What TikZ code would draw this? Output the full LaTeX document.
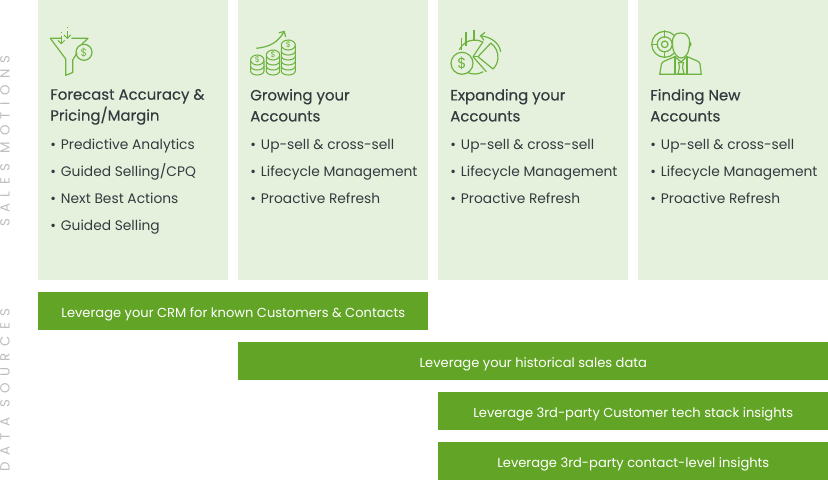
\documentclass[tikz,border=0pt]{standalone}
\usepackage{fontspec}
\setmainfont{Poppins}
\usepackage{xcolor}
\usetikzlibrary{arrows.meta}
\definecolor{cardgreen}{HTML}{E6F1DD}
\definecolor{bargreen}{HTML}{62A526}
\definecolor{icongreen}{HTML}{6DB33F}
\definecolor{inkgray}{HTML}{333B3F}
\definecolor{sidegray}{HTML}{BDBDBD}
\tikzset{
  card/.style={fill=cardgreen, anchor=north west, minimum width=142.5pt, minimum height=210pt, inner sep=0pt},
  bar/.style={fill=bargreen, text=white, anchor=north west, minimum height=28.5pt, inner sep=0pt,
    text height=12pt, text depth=3pt, font=\fontsize{9.8}{12}\selectfont},
  heading/.style={anchor=north west, inner sep=0pt, align=left, text=inkgray,
    execute at begin node=\strut, font=\fontsize{11.2}{15.75}\selectfont\addfontfeature{FakeBold=0.4}},
  item/.style={anchor=base west, inner sep=0pt, text=inkgray, font=\fontsize{10.35}{12}\selectfont},
  sidelabel/.style={rotate=90, text=sidegray, inner sep=0pt,
    font=\fontsize{10}{12}\selectfont\addfontfeature{LetterSpace=48}},
  icon/.style={draw=icongreen, line width=0.9pt, line join=round},
  icontext/.style={text=icongreen, inner sep=0pt, font=\fontsize{8}{8}\selectfont}
}
\begin{document}
\begin{tikzpicture}[x=0.75pt, y=-0.75pt, >=Stealth]
  \useasboundingbox (0,0) rectangle (828,480);

  % Side labels
  \node[sidelabel] (motions) at (5,141) {SALES MOTIONS};
  \node[sidelabel] (sources) at (5,390) {DATA SOURCES};

  % Cards
  \node[card] (card1) at (38,0) {};
  \node[card] (card2) at (238,0) {};
  \node[card] (card3) at (438,0) {};
  \node[card] (card4) at (638,0) {};

  % Headings
  \node[heading] (head1) at (50,88.8) {Forecast Accuracy \&\\Pricing/Margin};
  \node[heading] (head2) at (250,88.8) {Growing your\\Accounts};
  \node[heading] (head3) at (450,88.8) {Expanding your\\Accounts};
  \node[heading] (head4) at (650,88.8) {Finding New\\Accounts};

  % Lists
  \node[item] (item11) at (50,149) {•\hspace{1pt} Predictive Analytics};
  \node[item] (item12) at (50,176) {•\hspace{1pt} Guided Selling/CPQ};
  \node[item] (item13) at (50,203) {•\hspace{1pt} Next Best Actions};
  \node[item] (item14) at (50,230) {•\hspace{1pt} Guided Selling};
  \foreach \cx/\n in {250/2, 450/3, 650/4} {
    \node[item] (item\n1) at (\cx,149) {•\hspace{1pt} Up-sell \& cross-sell};
    \node[item] (item\n2) at (\cx,176) {•\hspace{1pt} Lifecycle Management};
    \node[item] (item\n3) at (\cx,203) {•\hspace{1pt} Proactive Refresh};
  }

  % Data source bars
  \node[bar, minimum width=292.5pt] (crm) at (38,292) {Leverage your CRM for known Customers \& Contacts};
  \node[bar, minimum width=442.5pt] (sales) at (238,342) {Leverage your historical sales data};
  \node[bar, minimum width=292.5pt] (stack) at (438,392) {Leverage 3rd-party Customer tech stack insights};
  \node[bar, minimum width=292.5pt] (contact) at (438,442) {Leverage 3rd-party contact-level insights};

  % Funnel icon
  \draw[icon] (61,38.3) -- (50.3,38.3) -- (65.7,59) -- (65.7,75.3) -- (72.7,72.5) -- (72.7,60) -- (77,53);
  \draw[icon] (71.3,38.3) -- (88,38.3) -- (82,44);
  \draw[icon] (84,52.3) circle (8);
  \node[icontext] (coin1) at (84,52.3) {\$};
  \draw[icon, line width=0.7pt, ->, >={Straight Barb[length=2.5pt,width=5pt]}] (61.3,37) -- (61.3,44.3);
  \draw[icon, line width=0.7pt, ->, >={Straight Barb[length=2.5pt,width=5pt]}] (67.3,31) -- (67.3,39);
  \draw[icon, line width=0.7pt, dotted] (61.3,32) -- (61.3,36);
  \draw[icon, line width=0.7pt, dotted] (67.3,27) -- (67.3,31);

  % Coin stacks icon
  \foreach \sx/\stop/\srx/\sn in {257.3/60/6.7/2, 273/55/6.7/3, 288.3/45/7/5} {
    \foreach \k in {\sn,...,1}
      \draw[icon, line width=0.8pt, fill=cardgreen] ({\sx-\srx},{\stop+1+(\k-1)*5}) -- ({\sx-\srx},{\stop+1+\k*5})
        arc[start angle=180, end angle=0, x radius=\srx, y radius=4] -- ({\sx+\srx},{\stop+1+(\k-1)*5});
    \draw[icon, line width=0.8pt, fill=cardgreen] (\sx,\stop) ellipse ({\srx} and 5);
    \node[icontext, font=\fontsize{6}{6}\selectfont] (stack\sn) at (\sx,\stop) {\$};
  }
  \draw[icon, ->, >={Straight Barb[length=3pt,width=6pt]}] (256.3,48.3) .. controls (270,47) and (278,42) .. (284.7,30.7);

  % Pie icon
  \draw[icon] (474.7,57) ++(-155:17) arc[start angle=-155, end angle=-62, radius=17];
  \draw[icon] (474.7,57) ++(115:17) arc[start angle=115, end angle=60, radius=17];
  \draw[icon] (483,41.7) -- (473,56.7) -- (486.3,71.7);
  \draw[icon] (473,56.7) -- (478,56.7);
  \draw[icon] (481,57) ++(-55:17) arc[start angle=-55, end angle=45, radius=17] -- (478,56.7) -- cycle;
  \draw[icon, fill=cardgreen] (462,63.3) circle (11);
  \node[icontext, font=\fontsize{11}{11}\selectfont] (coin3) at (462,63.3) {\$};
  \draw[icon] (461.3,38.3) -- (461.3,50);
  \draw[icon] (466,31.7) -- (466,46);
  \draw[icon] (474,30) -- (474,41);
  \draw[icon, ->, >={Straight Barb[length=3pt,width=6pt]}] (500.7,51.7) .. controls (499,42) and (490,37) .. (479.7,35.7);

  % Target and person icon
  \draw[icon] (664.7,44.3) circle (13);
  \draw[icon] (664.7,44.3) circle (7.5);
  \draw[icon] (664.7,44.3) circle (3.3);
  \draw[icon] (664.7,30) -- (664.7,38);
  \draw[icon] (664.7,51) -- (664.7,58);
  \draw[icon] (650.5,44.3) -- (658,44.3);
  \draw[icon, fill=cardgreen] (680.7,33) .. controls (671,33) and (672,42) .. (673,49)
    .. controls (674,54) and (678,58) .. (681,58) .. controls (685,58) and (688,54) .. (689,49)
    .. controls (690,42) and (691,33) .. (680.7,33) -- cycle;
  \draw[icon] (689.5,42) -- (691,44) -- (689,48);
  \draw[icon, fill=cardgreen] (659.7,74.3) -- (661.5,64) .. controls (662,61) and (668,60) .. (675,56.5)
    -- (681,62) -- (687,56.5) .. controls (694,60) and (700,61) .. (700,64) -- (701.3,74.3) -- cycle;
  \draw[icon] (678.5,62.5) -- (683.5,62.5) -- (682.5,67) -- (684,74) -- (678,74) -- (679.5,67) -- cycle;
  \draw[icon] (675,56.5) -- (675,74);
  \draw[icon] (687,56.5) -- (687,74);
\end{tikzpicture}
\end{document}
